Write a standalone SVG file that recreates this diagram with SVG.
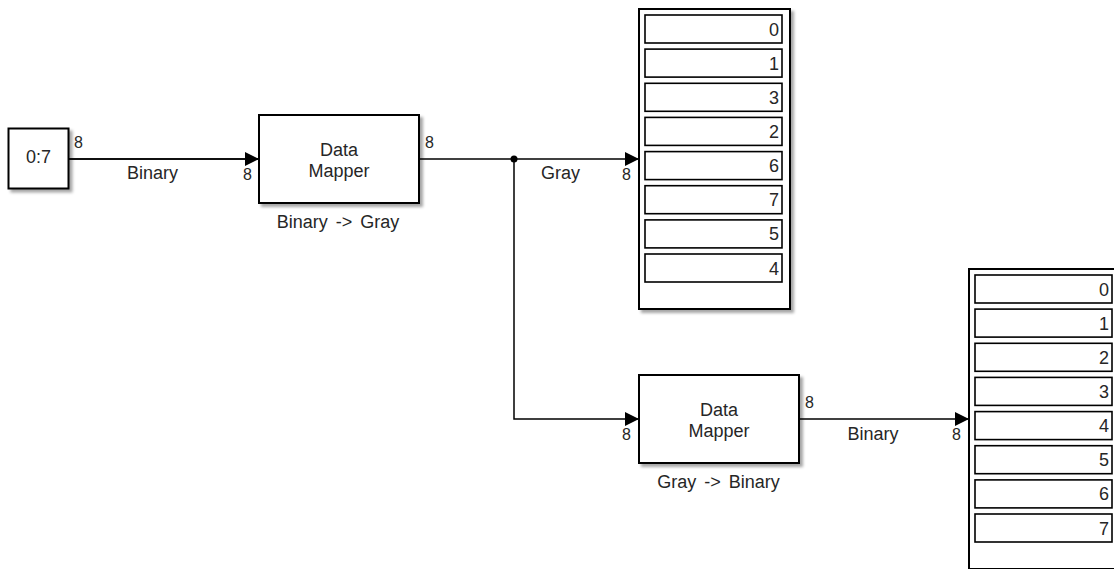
<svg xmlns="http://www.w3.org/2000/svg" width="1114" height="569" viewBox="0 0 1114 569">
<style>
text { font-family: "Liberation Sans", Arial, sans-serif; fill: #262626; }
.lbl { font-size: 18px; text-anchor: middle; }
.port { font-size: 16px; }
.num { font-size: 18px; text-anchor: end; }
.blk { fill: #fff; stroke: #000; stroke-width: 2; filter: url(#sh); }
.cell { fill: #fff; stroke: #000; stroke-width: 1.6; }
.wire { fill: none; stroke: #000; stroke-width: 1.5; }
.arr { marker-end: url(#ah); }
.sp { word-spacing: 3px; }
</style>
<defs>
<filter id="sh" x="-10%" y="-10%" width="130%" height="130%">
<feDropShadow dx="3" dy="3" stdDeviation="1.8" flood-color="#000" flood-opacity="0.35"/>
</filter>
<marker id="ah" markerUnits="userSpaceOnUse" markerWidth="14" markerHeight="14" refX="14" refY="7" orient="auto">
<path d="M0,0 L14,7 L0,14 z" fill="#000"/>
</marker>
</defs>
<rect width="1114" height="569" fill="#fff"/>

<g id="connectors">
<path class="wire" d="M69,159 H419"/>
<path class="wire arr" d="M69,159 H259"/>
<path class="wire arr" d="M419,159 H639"/>
<path class="wire arr" d="M514,159 V419 H639"/>
<path class="wire arr" d="M799,419 H969"/>
<circle cx="514" cy="159" r="3.5" fill="#000"/>
<text class="lbl" x="152.5" y="179">Binary</text>
<text class="lbl" x="560.5" y="179">Gray</text>
<text class="lbl" x="873" y="440">Binary</text>
</g>

<g id="source">
<rect class="blk" x="8.5" y="128.5" width="60" height="60"/>
<text class="lbl" x="38.5" y="162.5">0:7</text>
<text class="port" x="74" y="148">8</text>
</g>

<g id="mapper1">
<rect class="blk" x="259" y="115" width="160" height="88"/>
<text class="lbl" x="339" y="156">Data</text>
<text class="lbl" x="339" y="177">Mapper</text>
<text class="lbl sp" x="338" y="227.5">Binary -&gt; Gray</text>
<text class="port" x="252" y="180" text-anchor="end">8</text>
<text class="port" x="425" y="148">8</text>
</g>

<g id="display1">
<rect class="blk" x="639" y="9" width="151" height="300"/>
<rect class="cell" x="645" y="15" width="137" height="28"/>
<rect class="cell" x="645" y="49.1" width="137" height="28"/>
<rect class="cell" x="645" y="83.3" width="137" height="28"/>
<rect class="cell" x="645" y="117.4" width="137" height="28"/>
<rect class="cell" x="645" y="151.6" width="137" height="28"/>
<rect class="cell" x="645" y="185.7" width="137" height="28"/>
<rect class="cell" x="645" y="219.9" width="137" height="28"/>
<rect class="cell" x="645" y="254" width="137" height="28"/>
<text class="num" x="779" y="35.5">0</text>
<text class="num" x="779" y="69.6">1</text>
<text class="num" x="779" y="103.8">3</text>
<text class="num" x="779" y="137.9">2</text>
<text class="num" x="779" y="172.1">6</text>
<text class="num" x="779" y="206.2">7</text>
<text class="num" x="779" y="240.4">5</text>
<text class="num" x="779" y="274.5">4</text>
<text class="port" x="631" y="179.5" text-anchor="end">8</text>
</g>

<g id="mapper2">
<rect class="blk" x="639" y="375" width="160" height="88"/>
<text class="lbl" x="719" y="416">Data</text>
<text class="lbl" x="719" y="437">Mapper</text>
<text class="lbl sp" x="718.5" y="487.5">Gray -&gt; Binary</text>
<text class="port" x="631" y="440" text-anchor="end">8</text>
<text class="port" x="805" y="408">8</text>
</g>

<g id="display2">
<rect class="blk" x="969" y="269" width="151" height="300"/>
<rect class="cell" x="975" y="275" width="137" height="28"/>
<rect class="cell" x="975" y="309.1" width="137" height="28"/>
<rect class="cell" x="975" y="343.3" width="137" height="28"/>
<rect class="cell" x="975" y="377.4" width="137" height="28"/>
<rect class="cell" x="975" y="411.6" width="137" height="28"/>
<rect class="cell" x="975" y="445.7" width="137" height="28"/>
<rect class="cell" x="975" y="479.9" width="137" height="28"/>
<rect class="cell" x="975" y="514" width="137" height="28"/>
<text class="num" x="1109" y="295.5">0</text>
<text class="num" x="1109" y="329.6">1</text>
<text class="num" x="1109" y="363.8">2</text>
<text class="num" x="1109" y="397.9">3</text>
<text class="num" x="1109" y="432.1">4</text>
<text class="num" x="1109" y="466.2">5</text>
<text class="num" x="1109" y="500.4">6</text>
<text class="num" x="1109" y="534.5">7</text>
<text class="port" x="961" y="440" text-anchor="end">8</text>
</g>
</svg>
